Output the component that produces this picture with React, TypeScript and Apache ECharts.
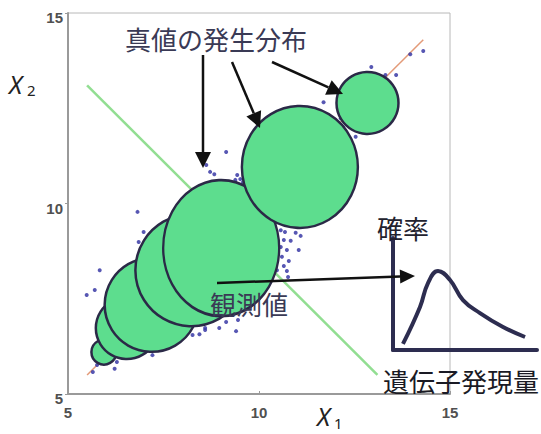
import React, { useEffect, useRef } from "react";
import * as echarts from "echarts";

// Observed expression values (X1, X2)
const obsX = [
  13.96, 14.3, 12.94, 13.31, 13.59, 11.69, 12.53, 12.14,
  6.82, 6.98, 6.85, 5.83, 5.7, 5.49,
  5.76, 5.65, 6.28, 6.22, 7.21,
  8.26, 8.44, 8.59, 8.54, 8.59, 8.96, 9.14, 9.4, 9.45,
  8.62, 8.72, 8.83, 9.14, 9.43, 9.51, 9.58, 9.38,
  10.57, 10.68, 10.96, 11.09, 10.65, 10.83, 10.57, 11.04, 10.73, 10.6, 10.78, 10.65, 10.73, 10.76, 10.47,
  6.6, 7.0, 7.6, 8.0, 8.6, 9.0, 9.6, 10.0, 10.4, 11.0, 11.6, 12.2, 12.8,
];
const obsY = [
  13.92, 14.0, 13.58, 13.37, 13.37, 12.66, 11.75, 12.24,
  9.78, 9.25, 8.99, 8.25, 7.73, 7.6,
  5.76, 5.58, 5.84, 5.66, 6.02,
  6.55, 6.57, 6.73, 6.89, 6.68, 6.73, 6.89, 6.65, 6.94,
  11.01, 10.83, 10.77, 11.35, 10.75, 10.64, 10.56, 10.62,
  9.3, 9.25, 9.23, 9.15, 9.04, 9.02, 8.86, 8.78, 8.78, 8.6, 8.49, 8.36, 8.23, 8.07, 8.25,
  6.5, 7.3, 7.4, 8.3, 8.1, 9.3, 9.2, 10.3, 10.0, 11.2, 11.0, 12.0, 12.9,
];

// True-value distributions (centres, drawn spread in px)
const circleX = [5.94, 6.54, 7.19, 8.23, 9.01, 11.07, 12.84];
const circleY = [6.1, 6.73, 7.34, 8.25, 8.83, 10.96, 12.64];
const circleW = [25, 62, 94, 112, 116, 116, 62];
const circleH = [25, 62, 94, 112, 136, 122, 62];

// Reference lines
const diagX = [5.5, 14.3];
const diagY = [5.5, 14.3];
const antiX = [5.5, 13.1];
const antiY = [13.1, 5.5];

// Inset distribution curve
const curveX = [0.69, 1.875, 2.43, 3.125, 3.96, 4.86, 6.04, 7.64, 9.17];
const curveY = [0.54, 3.84, 5.98, 7.05, 6.25, 4.46, 3.3, 2.05, 1.16];

const xTicks = [5, 10, 15];
const yTicks = [5, 10, 15];

const JP = "'Noto Sans CJK JP', sans-serif";

function arrow(x1: number, y1: number, x2: number, y2: number, len = 16, half = 8) {
  const dx = x2 - x1, dy = y2 - y1;
  const L = Math.hypot(dx, dy);
  const ux = dx / L, uy = dy / L;
  const bx = x2 - ux * len, by = y2 - uy * len;
  const px = -uy * half, py = ux * half;
  return [
    { type: "line", z: 100, shape: { x1, y1, x2: bx, y2: by }, style: { stroke: "#111", lineWidth: 2.5 } },
    {
      type: "polygon",
      z: 100,
      shape: { points: [[bx + px, by + py], [bx - px, by - py], [x2, y2]] },
      style: { fill: "#111" },
    },
  ];
}

function txt(text: string, x: number, y: number, size: number, fill: string, extra: any = {}) {
  return {
    type: "text",
    z: 100,
    x,
    y,
    style: { text, fontSize: size, fill, fontFamily: JP, verticalAlign: "middle", ...extra },
  };
}

export default function App() {
  const ref = useRef<HTMLDivElement>(null);
  useEffect(() => {
    if (!ref.current) return;
    const chart = echarts.init(ref.current, undefined, { renderer: "svg" });
    const axisLabel = { fontSize: 15, fontWeight: "bold", color: "#505050", fontFamily: "'Liberation Sans', Arial" };
    chart.setOption({
      animation: false,
      backgroundColor: "#fff",
      grid: [
        { left: 68, top: 13, width: 382, height: 381, show: true, borderColor: "#b8b8b8", borderWidth: 1 },
        { left: 393, top: 238, width: 144, height: 112 },
      ],
      xAxis: [
        {
          gridIndex: 0, type: "value", min: 5, max: 15, interval: 5,
          axisLine: { show: true, lineStyle: { color: "#9a9a9a", width: 2 } },
          axisTick: { show: true, inside: true, length: 3, lineStyle: { color: "#9a9a9a" } },
          splitLine: { show: false },
          axisLabel: { ...axisLabel, margin: 11, formatter: (v: number) => (xTicks.includes(v) ? String(v) : "") },
        },
        { gridIndex: 1, type: "value", min: 0, max: 10, axisLine: { show: true, lineStyle: { color: "#2d2d50", width: 4 } }, axisTick: { show: false }, axisLabel: { show: false }, splitLine: { show: false } },
      ],
      yAxis: [
        {
          gridIndex: 0, type: "value", min: 5, max: 15, interval: 5,
          axisLine: { show: true, lineStyle: { color: "#9a9a9a", width: 2 } },
          axisTick: { show: true, length: 3, lineStyle: { color: "#9a9a9a" } },
          splitLine: { show: false },
          axisLabel: { ...axisLabel, margin: 5, verticalAlign: "top", lineHeight: 9, formatter: (v: number) => (yTicks.includes(v) ? String(v) : "") },
        },
        { gridIndex: 1, type: "value", min: 0, max: 10, axisLine: { show: true, lineStyle: { color: "#2d2d50", width: 4 } }, axisTick: { show: false }, axisLabel: { show: false }, splitLine: { show: false } },
      ],
      series: [
        {
          type: "line", xAxisIndex: 0, yAxisIndex: 0, z: 1, showSymbol: false, silent: true,
          data: antiX.map((x, i) => [x, antiY[i]]),
          lineStyle: { color: "#86da86", width: 2.5, opacity: 0.9 },
        },
        {
          type: "line", xAxisIndex: 0, yAxisIndex: 0, z: 1, showSymbol: false, silent: true,
          data: diagX.map((x, i) => [x, diagY[i]]),
          lineStyle: { color: "#e39a78", width: 1.5 },
        },
        {
          type: "scatter", xAxisIndex: 0, yAxisIndex: 0, z: 2, symbolSize: 4,
          data: obsX.map((x, i) => [x, obsY[i]]),
          itemStyle: { color: "#3a3aa6", opacity: 0.85 },
        },
        {
          type: "scatter", xAxisIndex: 0, yAxisIndex: 0, z: 3,
          data: circleX.map((x, i) => ({ value: [x, circleY[i]], symbolSize: [circleW[i], circleH[i]] })),
          itemStyle: { color: "#5ddd8e", borderColor: "#2b2947", borderWidth: 2.5, opacity: 1 },
        },
        {
          type: "line", xAxisIndex: 1, yAxisIndex: 1, smooth: 0.45, showSymbol: false,
          data: curveX.map((x, i) => [x, curveY[i]]),
          lineStyle: { color: "#2d2d50", width: 4 },
        },
      ],
      graphic: [
        txt("真値の発生分布", 125, 38, 26, "#3a3a55"),
        txt("観測値", 210, 303, 26, "#3a3a55"),
        txt("確率", 377, 227, 26, "#22222e"),
        txt("遺伝子発現量", 383, 380, 26, "#1a1a24"),
        ...arrow(203, 55, 203, 168),
        ...arrow(232, 62, 260, 128),
        ...arrow(272, 62, 343, 94),
        ...arrow(217, 283, 415, 276, 15, 7),
        { type: "text", z: 100, x: 9, y: 84, style: { text: "X", fontSize: 25, fontStyle: "italic", fill: "#222", fontFamily: "'Noto Sans', sans-serif", verticalAlign: "middle" } },
        { type: "text", z: 100, x: 27, y: 90, style: { text: "2", fontSize: 15, fill: "#222", fontFamily: "'Noto Sans', sans-serif", verticalAlign: "middle" } },
        { type: "text", z: 100, x: 317, y: 416, style: { text: "X", fontSize: 25, fontStyle: "italic", fill: "#222", fontFamily: "'Noto Sans', sans-serif", verticalAlign: "middle" } },
        { type: "text", z: 100, x: 334, y: 423, style: { text: "1", fontSize: 15, fill: "#222", fontFamily: "'Noto Sans', sans-serif", verticalAlign: "middle" } },
      ],
    });
    return () => chart.dispose();
  }, []);
  return <div ref={ref} style={{ position: "fixed", left: 0, top: 0, width: 541, height: 434 }} />;
}
